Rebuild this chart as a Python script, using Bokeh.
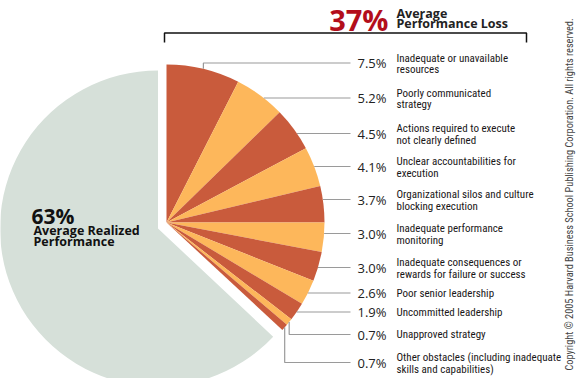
import numpy as np
from bokeh.plotting import figure
from bokeh.models import Range1d
from bokeh.core.properties import value
from bokeh.embed import file_html
from bokeh.resources import INLINE

# ---------------- data ----------------
loss_values = [7.5, 5.2, 4.5, 4.1, 3.7, 3.0, 3.0, 2.6, 1.9, 0.7, 0.7]
loss_labels = [
    "Inadequate or unavailable\nresources",
    "Poorly communicated\nstrategy",
    "Actions required to execute\nnot clearly defined",
    "Unclear accountabilities for\nexecution",
    "Organizational silos and culture\nblocking execution",
    "Inadequate performance\nmonitoring",
    "Inadequate consequences or\nrewards for failure or success",
    "Poor senior leadership",
    "Uncommitted leadership",
    "Unapproved strategy",
    "Other obstacles (including inadequate\nskills and capabilities)",
]
realized_value = 63
loss_total_label = "37%"
loss_title = ["Average", "Performance Loss"]
realized_label = "63%"
realized_title = ["Average Realized", "Performance"]
copyright_text = "Copyright © 2005 Harvard Business School Publishing Corporation. All rights reserved."

# ---------------- layout (pixel-like coordinates, y up = -pixel) ----------------
W, H = 577, 378
p = figure(width=W, height=H, output_backend="svg", toolbar_location=None,
           x_range=Range1d(0, W), y_range=Range1d(-H, 0),
           min_border=0, background_fill_color="white", border_fill_color="white")
p.axis.visible = False
p.grid.visible = False
p.outline_line_color = None

R = 158
cx, cy = 166.0, -222.0        # loss pie centre
gx, gy = 157.5, -228.0        # realized (exploded) pie centre

dark, light = "#C95B3C", "#FDB75B"
cum = np.concatenate([[0], np.cumsum(loss_values)])
starts = 90 - cum[:-1] * 3.6
ends = 90 - cum[1:] * 3.6
colors = [dark if i % 2 == 0 else light for i in range(len(loss_values))]

# realized performance wedge
p.wedge(x=gx, y=gy, radius=R, start_angle=np.radians(90),
        end_angle=np.radians(90 + realized_value * 3.6),
        direction="anticlock", fill_color="#D6E0D9", line_color=None)

# loss wedges
p.wedge(x=[cx] * len(loss_values), y=[cy] * len(loss_values), radius=R,
        start_angle=list(np.radians(starts)), end_angle=list(np.radians(ends)),
        direction="clock", fill_color=colors, line_color=None)

# leader lines
label_y = [62.5, 97.5, 133, 166, 199, 233, 267, 292.5, 311.5, 334, 362]
line_end_x = 350
xs, ys = [], []
for i, v in enumerate(loss_values):
    ly = -label_y[i]
    a0, a1 = np.radians(starts[i]), np.radians(ends[i])
    y_a, y_b = cy + R * np.sin(a0), cy + R * np.sin(a1)
    lo, hi = min(y_a, y_b), max(y_a, y_b)
    if lo <= ly <= hi:
        x0 = cx + np.sqrt(R ** 2 - (ly - cy) ** 2)
        xs.append([x0, line_end_x]); ys.append([ly, ly])
    else:
        am = np.radians((starts[i] + ends[i]) / 2)
        mx, my = cx + R * np.cos(am), cy + R * np.sin(am)
        xs.append([mx, mx, line_end_x]); ys.append([my, ly, ly])
p.multi_line(xs=xs, ys=ys, line_color="#9A9A9A", line_width=1.2)

# percent values
p.text(x=[386] * len(loss_values), y=[-v for v in label_y],
       text=[f"{v:.1f}%" for v in loss_values], text_align="right",
       text_baseline="middle", text_font=value("Open Sans"), text_font_size="13px",
       text_color="#222222")

# category labels (one glyph per line)
lx, ly_, lt = [], [], []
for lab, y0 in zip(loss_labels, label_y):
    parts = lab.split("\n")
    if len(parts) == 1:
        offs = [0]
    else:
        offs = [-5, 6.5]
    for part, o in zip(parts, offs):
        lx.append(396); ly_.append(-(y0 + o)); lt.append(part)
p.text(x=lx, y=ly_, text=lt, text_align="left", text_baseline="middle",
       text_font=value("Roboto Condensed"), text_font_size="11px",
       text_color="#1A1718")

# bracket
p.multi_line(xs=[[164, 164, 526, 526]], ys=[[-42, -32.5, -32.5, -42]],
             line_color="#111111", line_width=1.5)

# title
p.text(x=[388], y=[-18.5], text=[loss_total_label], text_align="right",
       text_baseline="middle", text_font=value("Open Sans"),
       text_font_style="bold", text_font_size="29px", text_color="#B30E1B")
p.text(x=[396, 396], y=[-12.5, -22.5], text=loss_title, text_align="left",
       text_baseline="middle", text_font=value("Open Sans"),
       text_font_style="bold", text_font_size="12.5px", text_color="#222222")

# realized annotation
p.text(x=[31], y=[-215], text=[realized_label], text_align="left",
       text_baseline="middle", text_font=value("Open Sans"),
       text_font_style="bold", text_font_size="21px", text_color="#111111")
p.text(x=[33, 33], y=[-230, -241], text=realized_title, text_align="left",
       text_baseline="middle", text_font=value("Open Sans"),
       text_font_style="bold", text_font_size="12.5px", text_color="#111111")

# copyright
p.text(x=[569], y=[-194], text=[copyright_text],
       angle=np.pi / 2, text_align="center", text_baseline="middle",
       text_font=value("Roboto Condensed"), text_font_size="10.3px",
       text_color="#444444")

open("out.html", "w").write(file_html(p, INLINE))
